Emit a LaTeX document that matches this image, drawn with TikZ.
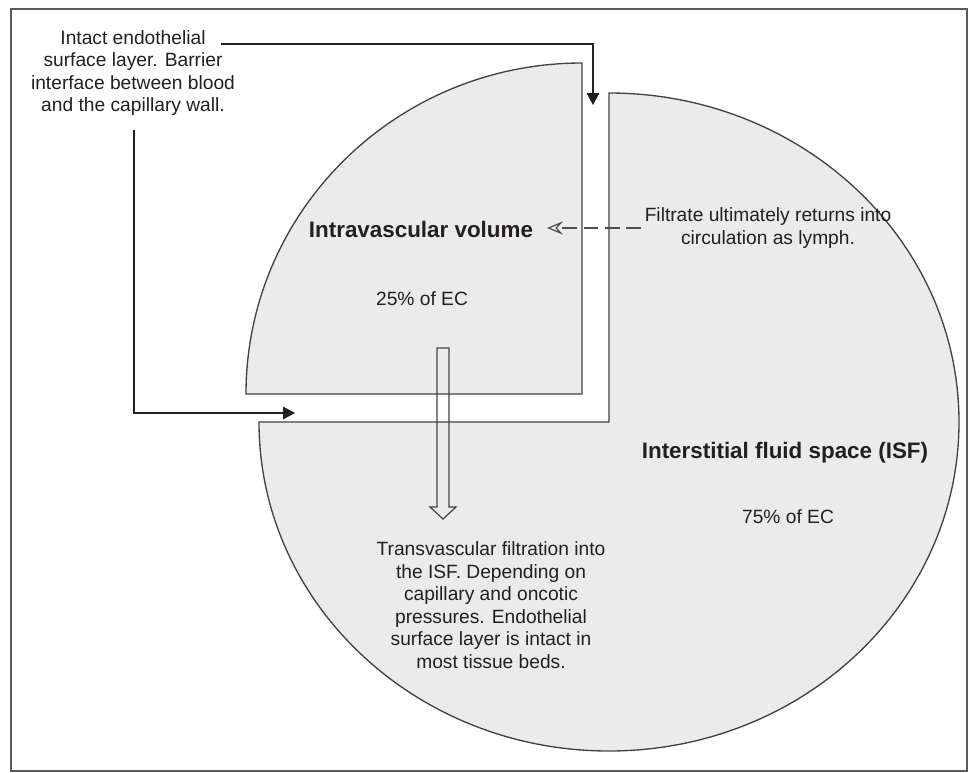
\documentclass[tikz,border=0pt]{standalone}
\usepackage{fontspec}
\setmainfont{Liberation Sans}
\usetikzlibrary{arrows.meta}
\definecolor{shade}{HTML}{EBEBEC}
\definecolor{ink}{HTML}{231F20}
\definecolor{framegray}{HTML}{5A5A5A}
\begin{document}
\begin{tikzpicture}[x=0.75pt,y=-0.75pt,
  region/.style={fill=shade,draw=ink!85,line width=1pt},
  lbl/.style={text=ink,font=\fontsize{14.4}{16.9}\selectfont,align=center,inner sep=0pt},
  title/.style={text=ink,font=\fontsize{16.8}{20}\selectfont\bfseries,inner sep=0pt},
  conn/.style={draw=ink,line width=0.9pt,-{Triangle[length=9pt,width=9.5pt]}},
  lymph/.style={draw=ink!80,line width=0.9pt,dash pattern=on 11pt off 5pt,
     -{Stealth[open,length=12pt,width=10pt,inset=4.5pt]}},
  hollow/.style={draw=ink!85,line width=0.9pt}]
\useasboundingbox (0,0) rectangle (968,772);
\draw[framegray,line width=1.1pt] (11,9) rectangle (967,771);
% interstitial fluid space (three quarters)
\draw[region] (609,93) arc[start angle=-90,end angle=180,x radius=350,y radius=329]
   -- (609,422) -- cycle;
% intravascular volume (one quarter)
\draw[region] (582,394) -- (246,394)
   arc[start angle=180,end angle=270,x radius=336,y radius=331] -- cycle;
% hollow filtration arrow
\draw[hollow] (437,348) -- (449,348) -- (449,507) -- (456,507) -- (443,519)
   -- (430,507) -- (437,507) -- cycle;
% labels
\node[lbl] (intact) at (133,73) {Intact endothelial\\surface layer. Barrier\\interface between blood\\and the capillary wall.};
\node[title] (iv) at (421,229) {Intravascular volume};
\node[lbl] (iv25) at (422,299) {25\% of EC};
\node[lbl] (filtrate) at (768,228) {Filtrate ultimately returns into\\circulation as lymph.};
\node[title] (isf) at (785,453) {Interstitial fluid space (ISF)};
\node[lbl] (isf75) at (788,517) {75\% of EC};
\node[lbl] (trans) at (491,605) {Transvascular filtration into\\the ISF. Depending on\\capillary and oncotic\\pressures. Endothelial\\surface layer is intact in\\most tissue beds.};
% connectors
\coordinate (c1a) at (221,44);
\coordinate (c1b) at (593,44);
\coordinate (c1tip) at (593,105);
\draw[conn] (c1a) -- (c1b) -- (c1tip);
\coordinate (c2a) at (134,130);
\coordinate (c2b) at (134,413);
\coordinate (c2tip) at (295,413);
\draw[conn] (c2a) -- (c2b) -- (c2tip);
\coordinate (lymphtip) at (547,228);
\draw[lymph] ([xshift=-2.5pt]filtrate.west) -- (lymphtip);
\end{tikzpicture}
\end{document}
